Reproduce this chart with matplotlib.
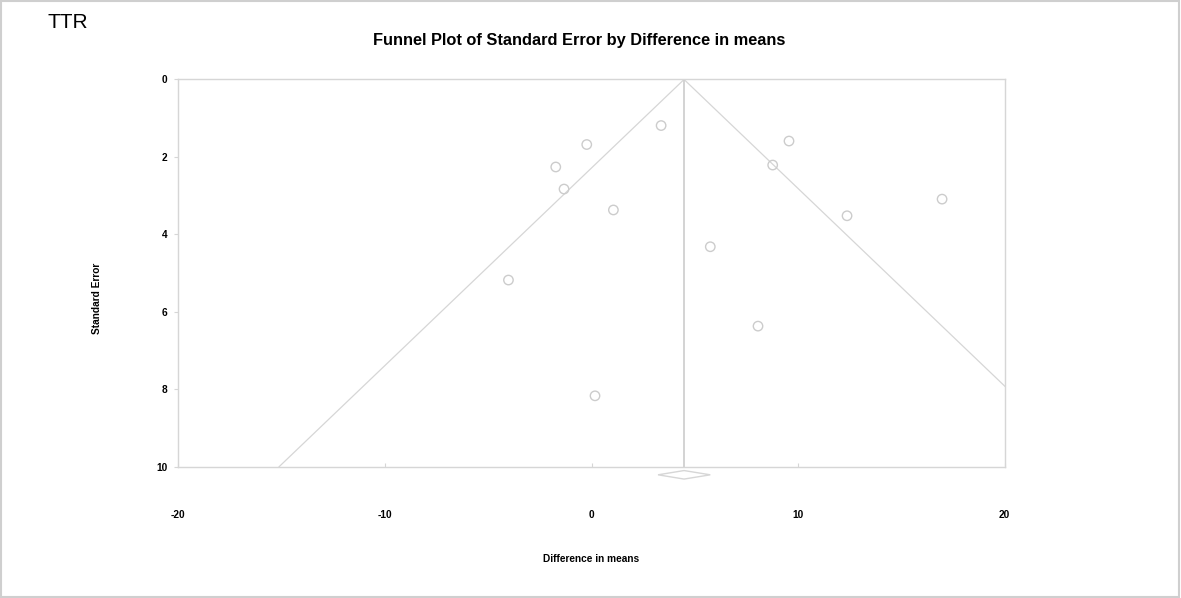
import matplotlib
matplotlib.use("Agg")
import matplotlib.pyplot as plt
from matplotlib.patches import Rectangle, Polygon
import numpy as np

plt.rcParams['font.family'] = ['Liberation Sans', 'DejaVu Sans']

# Study-level data (difference in means, standard error)
diff_means = [3.37, -0.23, -1.73, -1.33, 1.06, -4.02, 0.17,
              9.56, 8.77, 16.97, 12.37, 5.75, 8.06]
std_error = [1.19, 1.68, 2.26, 2.83, 3.37, 5.18, 8.17,
             1.59, 2.21, 3.09, 3.52, 4.32, 6.37]

pooled_mean = 4.48
pooled_ci = [3.22, 5.75]

x_ticks = [-20, -10, 0, 10, 20]
y_ticks = [0, 2, 4, 6, 8, 10]

gray = '#d6d6d6'

fig = plt.figure(figsize=(11.81, 5.98), dpi=100)
ax = fig.add_axes([0.151, 0.2196, 0.6997, 0.6475])

# funnel lines (95% pseudo confidence limits)
se_line = np.array([0, 10])
ax.plot(pooled_mean - 1.96 * se_line, se_line, color=gray, lw=0.9)
ax.plot(pooled_mean + 1.96 * se_line, se_line, color=gray, lw=0.9)
ax.plot([pooled_mean, pooled_mean], [0, 10], color='#d0d0d0', lw=1.3)

ax.scatter(diff_means, std_error, s=46, facecolors='none',
           edgecolors='#cccccc', linewidths=1.0, zorder=3)

# summary diamond below the axis
dy = 10.21
dh = 0.11
diamond = Polygon([[pooled_ci[0], dy], [pooled_mean, dy - dh],
                   [pooled_ci[1], dy], [pooled_mean, dy + dh]],
                  closed=True, fill=False, edgecolor=gray, lw=1.0,
                  clip_on=False)
ax.add_patch(diamond)

ax.set_xlim(-20, 20)
ax.set_ylim(10, 0)
ax.set_xticks(x_ticks)
ax.set_yticks(y_ticks)
ax.set_xticklabels([str(v) for v in x_ticks], fontsize=7.3, fontweight='bold')
ax.set_yticklabels([str(v) for v in y_ticks], fontsize=7.3, fontweight='bold')
ax.tick_params(axis='x', direction='in', length=3, color=gray, pad=31)
ax.tick_params(axis='y', direction='out', length=3, color=gray, pad=5)
for sp in ax.spines.values():
    sp.set_color(gray)
    sp.set_linewidth(1.0)

fig.text(579 / 1181, 1 - 41 / 598,
         'Funnel Plot of Standard Error by Difference in means',
         ha='center', va='center', fontsize=11.8, fontweight='bold')
fig.text(48 / 1181, 1 - 22 / 598, 'TTR', ha='left', va='center', fontsize=15)
fig.text(591 / 1181, 1 - 559 / 598, 'Difference in means',
         ha='center', va='center', fontsize=7.3, fontweight='bold')
fig.text(97 / 1181, 1 - 298 / 598, 'Standard Error', rotation=90,
         ha='center', va='center', fontsize=7.3, fontweight='bold')

fig.patches.append(Rectangle((0.001, 0.002), 0.997, 0.996,
                             transform=fig.transFigure, fill=False,
                             edgecolor='#cfcfcf', lw=1.5))

fig.savefig('out.png', dpi=100)
